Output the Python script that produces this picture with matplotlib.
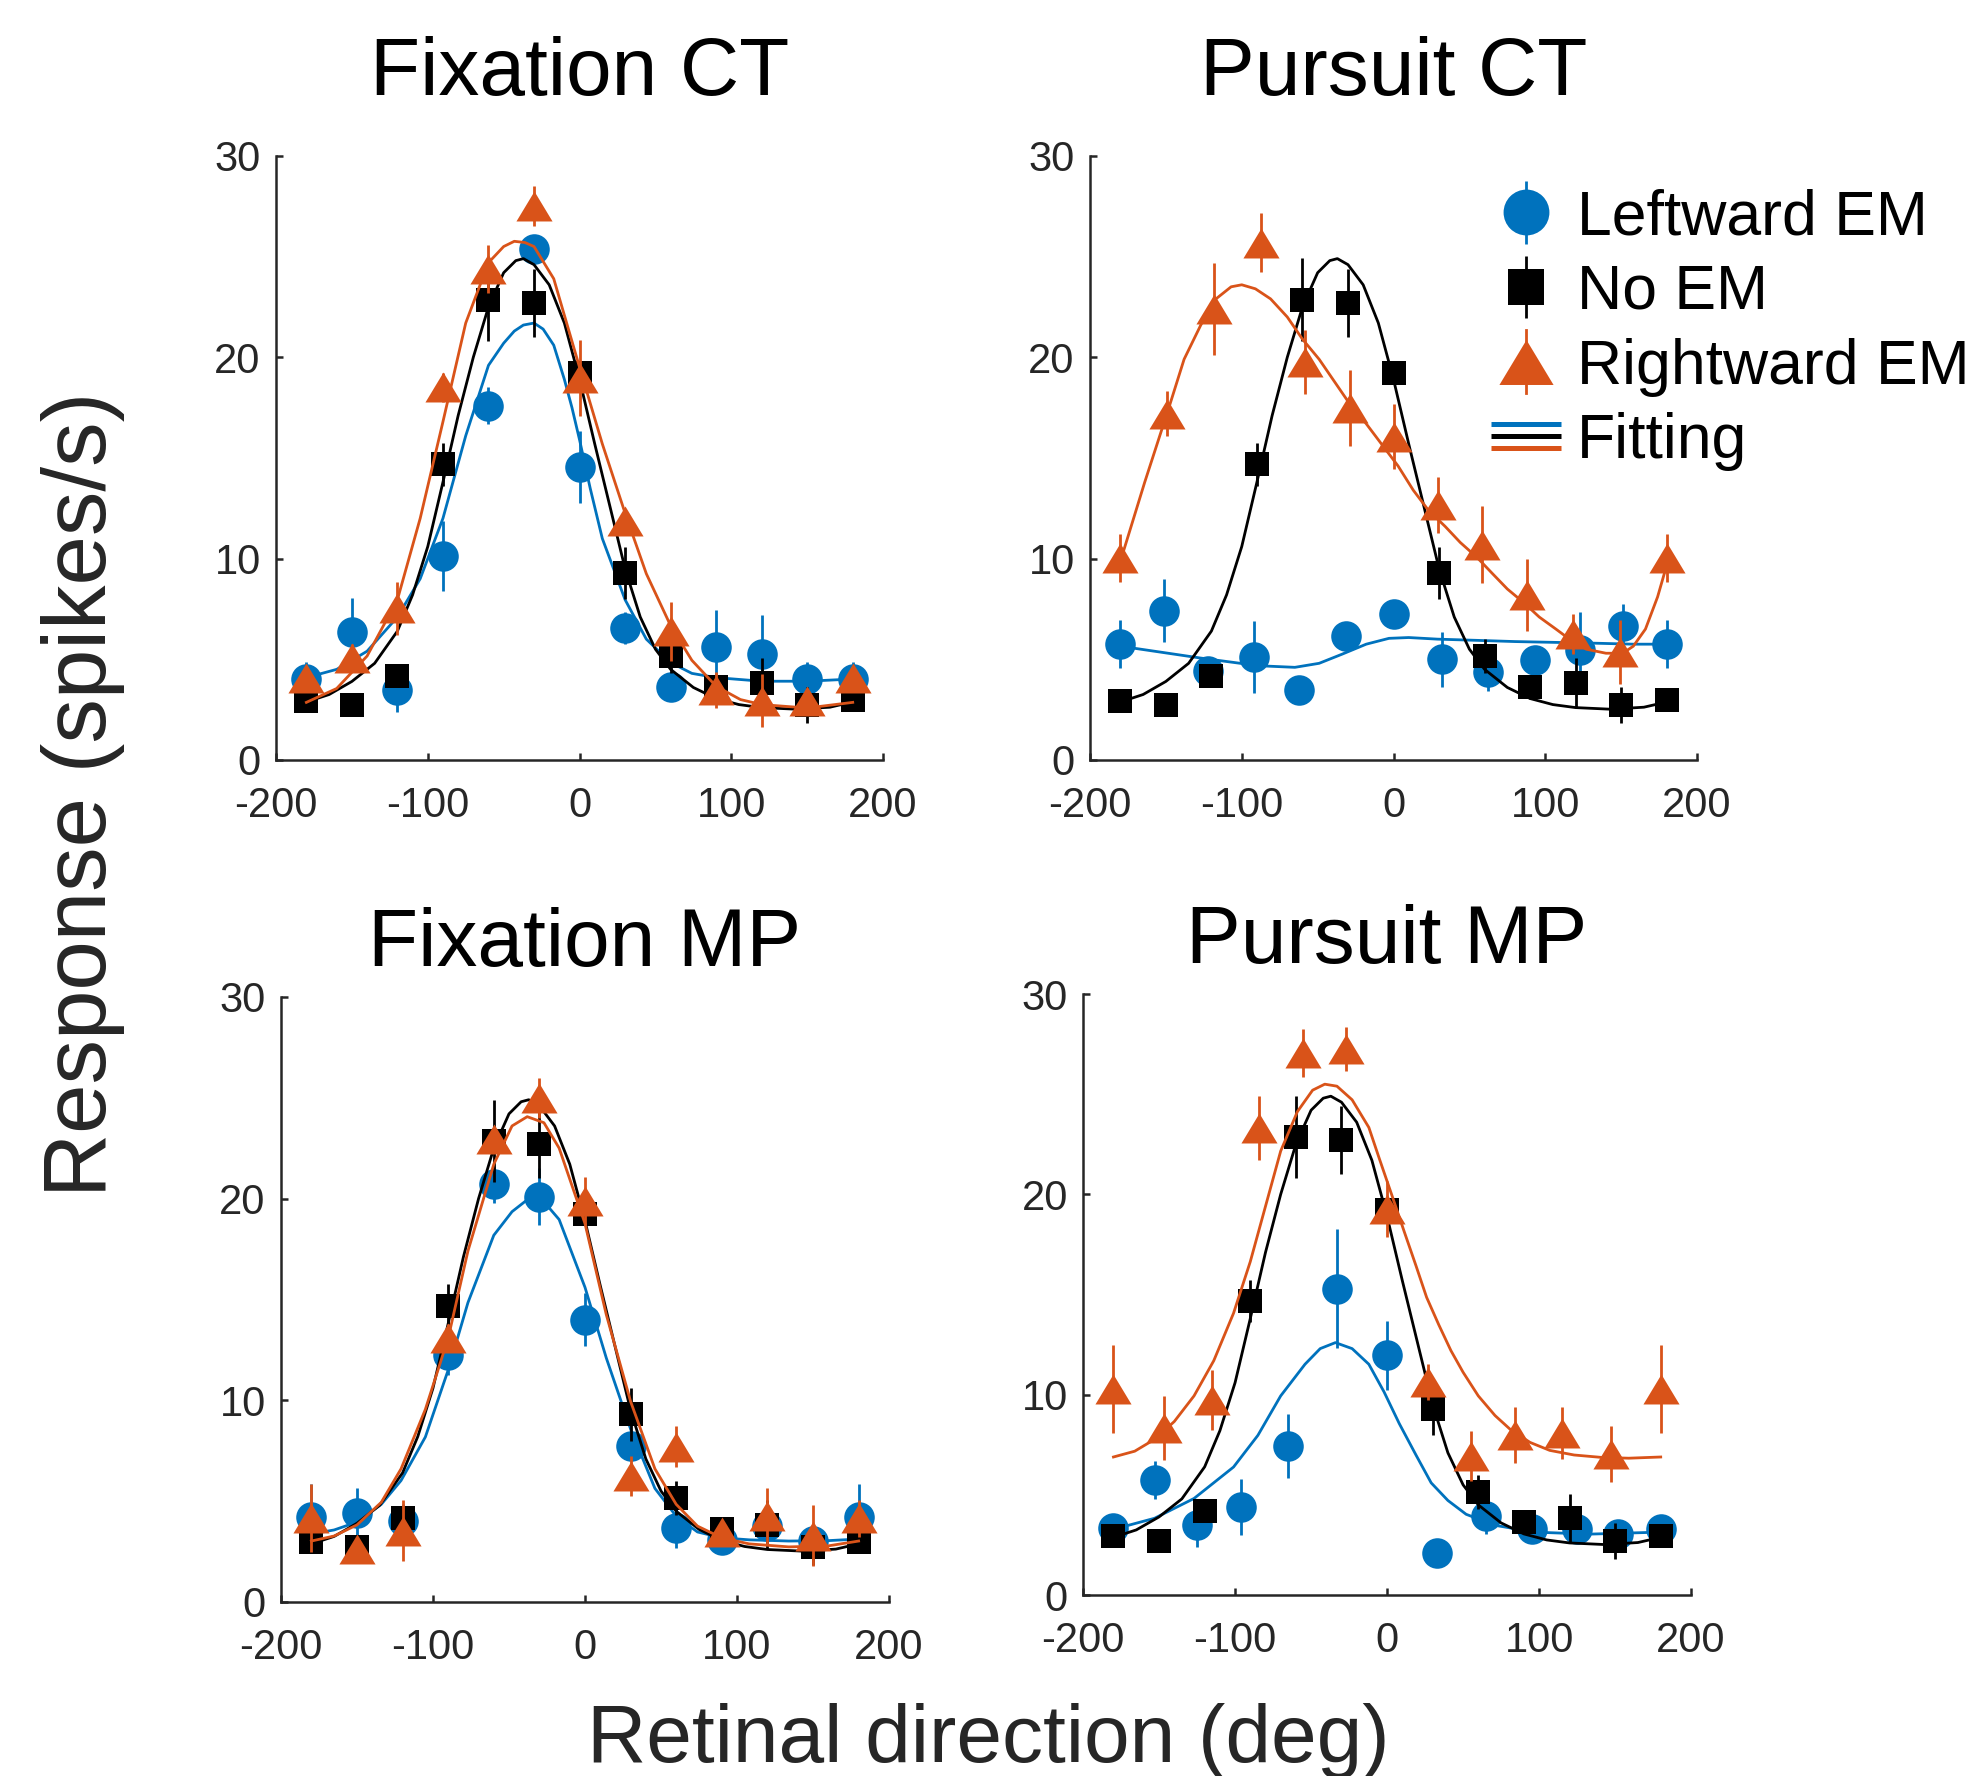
import matplotlib
matplotlib.use("Agg")
import matplotlib.pyplot as plt
from matplotlib.lines import Line2D
from matplotlib.legend_handler import HandlerBase

plt.rcParams['font.family'] = ['Liberation Sans', 'DejaVu Sans']
plt.rcParams['axes.unicode_minus'] = False

BLUE = '#0072BD'
ORANGE = '#D95319'
BLACK = '#000000'
GRAY = '#262626'

# ---- data ----
x_std = [-180, -150, -120, -90, -60, -30, 0, 30, 60, 90, 120, 150, 180]

# No EM (identical in all four panels)
noem_y = [2.95, 2.72, 4.18, 14.68, 22.86, 22.7, 19.24, 9.3, 5.16, 3.63, 3.84, 2.72, 2.97]
noem_err = [0.5, 0.4, 0.5, 1.06, 2.05, 1.7, 0.35, 1.3, 0.85, 0.6, 1.2, 0.9, 0.5]
noem_fit_x = [-180, -165, -150, -135, -120, -110, -100, -90, -80, -70, -60, -50, -42, -37, -30,
              -20, -10, 0, 10, 20, 30, 40, 50, 60, 75, 90, 105, 120, 143, 165, 180]
noem_fit_y = [2.88, 3.25, 3.9, 4.8, 6.4, 8.2, 10.6, 13.8, 17.1, 20.0, 22.5, 24.2, 24.8, 24.9, 24.6,
              23.6, 21.7, 18.9, 15.7, 12.6, 9.5, 7.1, 5.5, 4.5, 3.6, 3.05, 2.75, 2.6, 2.52, 2.62, 2.88]

# Fixation CT
fct_left_y = [4.02, 6.34, 3.48, 10.15, 17.6, 25.4, 14.56, 6.56, 3.6, 5.6, 5.27, 4.0, 4.0]
fct_left_err = [0.86, 1.7, 1.1, 1.74, 0.9, 0.5, 1.78, 0.8, 0.4, 1.83, 1.94, 0.86, 0.86]
fct_right_y = [4.09, 5.05, 7.53, 18.5, 24.4, 27.5, 18.97, 11.87, 6.39, 3.48, 2.95, 2.95, 4.09]
fct_right_err = [0.6, 0.7, 1.3, 0.7, 1.2, 1.0, 1.9, 0.6, 1.46, 0.9, 1.3, 0.6, 0.6]
fct_left_fit_x = [-180, -160, -140, -120, -105, -90, -75, -60, -50, -43, -37, -30, -24, -17, -10,
                  -5, 0, 7, 15, 30, 44, 60, 74, 90, 120, 150, 180]
fct_left_fit_y = [4.09, 4.5, 5.4, 7.1, 9.0, 12.0, 16.1, 19.6, 20.7, 21.3, 21.6, 21.7, 21.4, 20.6, 18.9,
                  17.5, 15.9, 13.5, 11.0, 7.96, 6.0, 4.84, 4.3, 4.09, 3.91, 3.91, 4.02]
fct_right_fit_x = [-180, -160, -140, -120, -105, -90, -75, -60, -50, -43, -36, -30, -17, 0, 15,
                   30, 44, 60, 74, 90, 106, 120, 150, 180]
fct_right_fit_y = [2.86, 3.55, 5.16, 7.96, 12.0, 16.8, 21.7, 24.7, 25.5, 25.76, 25.7, 25.5, 23.9, 19.5, 15.7,
                   12.26, 9.25, 6.67, 4.95, 3.66, 3.0, 2.75, 2.58, 2.86]

# Pursuit CT
pct_left_x = [-180, -151, -122, -92, -62, -31, 0, 32, 62, 93, 123, 151, 180]
pct_left_y = [5.75, 7.41, 4.4, 5.12, 3.49, 6.18, 7.25, 5.0, 4.37, 4.96, 5.45, 6.67, 5.75]
pct_left_err = [1.18, 1.57, 0.5, 1.8, 0.3, 0.3, 0.3, 1.37, 0.94, 0.7, 1.9, 1.1, 1.18]
pct_right_x = [-180, -149, -118, -87, -58, -29, 0, 29, 58, 88, 118, 149, 180]
pct_right_y = [10.04, 17.2, 22.4, 25.7, 19.76, 17.47, 16.06, 12.65, 10.69, 8.2, 6.27, 5.37, 10.04]
pct_right_err = [1.2, 1.1, 2.3, 1.45, 1.6, 1.9, 1.6, 1.4, 1.9, 1.8, 1.0, 1.6, 1.2]
pct_left_fit_x = [-180, -153, -127, -101, -86, -65, -49, -34, -18, -3, 10, 29, 55, 80, 106, 132, 158, 180]
pct_left_fit_y = [5.65, 5.35, 5.06, 4.8, 4.67, 4.6, 4.8, 5.25, 5.75, 6.04, 6.08, 6.0, 5.94, 5.88, 5.84,
                  5.8, 5.75, 5.75]
pct_right_fit_x = [-180, -164, -148, -138, -127, -117, -107, -100, -91, -81, -70, -60, -49, -39, -29,
                   -18, -8, 3, 13, 23, 34, 44, 55, 65, 75, 86, 96, 107, 117, 127, 140, 151, 158,
                   166, 174, 180]
pct_right_fit_y = [9.86, 13.78, 17.5, 19.9, 21.6, 22.9, 23.5, 23.6, 23.4, 22.9, 22.0, 20.9, 19.9, 18.8, 17.7,
                   16.7, 15.7, 14.6, 13.4, 12.4, 11.6, 10.8, 10.06, 9.27, 8.49, 7.8, 7.1, 6.5, 5.94, 5.5,
                   5.3, 5.3, 5.65, 6.5, 8.1, 9.67]

# Fixation MP
fmp_left_y = [4.2, 4.41, 4.0, 12.25, 20.7, 20.1, 14.0, 7.73, 3.67, 3.08, 3.76, 3.04, 4.2]
fmp_left_err = [1.67, 1.25, 0.85, 1.0, 0.9, 1.4, 1.3, 0.5, 1.0, 0.4, 0.6, 0.5, 1.67]
fmp_right_y = [4.16, 2.65, 3.53, 13.1, 22.96, 24.98, 19.88, 6.25, 7.7, 3.47, 4.25, 3.29, 4.14]
fmp_right_err = [1.7, 0.5, 1.5, 0.7, 0.6, 1.0, 1.2, 1.0, 1.0, 0.5, 1.4, 1.5, 0.9]
fmp_fit_x = [-180, -165, -150, -134, -121, -105, -90, -77, -60, -48, -38, -27, -17, 0, 14,
             30, 46, 60, 74, 90, 108, 134, 160, 180]
fmp_left_fit_y = [3.37, 3.57, 3.96, 4.84, 6.02, 8.18, 11.5, 14.84, 18.18, 19.35, 19.94, 19.84, 18.96, 15.6,
                  12.1, 8.57, 5.63, 4.25, 3.47, 3.18, 3.08, 3.02, 3.04, 3.12]
fmp_right_fit_y = [3.02, 3.27, 3.82, 4.94, 6.6, 9.55, 13.08, 17.4, 21.7, 23.6, 24.06, 23.76, 22.5, 18.76,
                   14.25, 9.94, 6.6, 4.84, 3.76, 3.18, 2.88, 2.73, 2.78, 3.02]

# Pursuit MP
pmp_left_x = [-180, -153, -125, -96, -65, -33, 0, 33, 65, 95, 125, 152, 180]
pmp_left_y = [3.34, 5.74, 3.48, 4.38, 7.42, 15.3, 11.97, 2.12, 3.93, 3.28, 3.28, 3.04, 3.3]
pmp_left_err = [0.3, 0.95, 1.1, 1.4, 1.6, 2.96, 1.72, 0.2, 0.9, 0.3, 0.3, 0.3, 0.3]
pmp_right_x = [-180, -147, -115, -84, -55, -27, 0, 27, 55, 84, 115, 147, 180]
pmp_right_y = [10.3, 8.34, 9.72, 23.3, 27.06, 27.24, 19.28, 10.63, 6.96, 8.0, 8.1, 7.02, 10.3]
pmp_right_err = [2.2, 1.6, 1.5, 1.6, 1.2, 1.1, 1.4, 0.9, 1.25, 1.4, 1.3, 1.4, 2.2]
pmp_left_fit_x = [-180, -153, -127, -101, -85, -70, -54, -44, -34, -23, -12, -2, 8, 19, 29, 40, 52,
                  71, 97, 133, 180]
pmp_left_fit_y = [3.28, 3.83, 4.82, 6.39, 7.97, 9.94, 11.52, 12.3, 12.6, 12.3, 11.52, 10.14, 8.56, 6.99,
                  5.6, 4.72, 4.03, 3.48, 3.14, 3.04, 3.14]
pmp_right_fit_x = [-180, -166, -153, -140, -127, -114, -101, -90, -80, -70, -59, -49, -41, -33, -23,
                   -12, -5, 3, 11, 19, 26, 34, 42, 50, 60, 71, 81, 94, 107, 123, 141, 159, 180]
pmp_right_fit_y = [6.89, 7.18, 7.77, 8.66, 9.94, 11.7, 14.07, 16.64, 19.4, 22.16, 24.13, 25.2, 25.5, 25.4,
                   24.72, 23.34, 21.76, 19.99, 18.2, 16.44, 14.86, 13.49, 12.2, 11.12, 9.94, 8.96, 8.27,
                   7.62, 7.22, 6.99, 6.87, 6.83, 6.89]

titles = ['Fixation CT', 'Pursuit CT', 'Fixation MP', 'Pursuit MP']
legend_labels = ['Leftward EM', 'No EM', 'Rightward EM', 'Fitting']

# wide MATLAB-like triangle
tri = [(0, 0.83), (-1, -0.83), (1, -0.83)]

panels = [
    dict(pos=[0.1394, 0.5721, 0.3066, 0.3401], pad=44,
         left=(x_std, fct_left_y, fct_left_err, fct_left_fit_x, fct_left_fit_y),
         right=(x_std, fct_right_y, fct_right_err, fct_right_fit_x, fct_right_fit_y)),
    dict(pos=[0.5505, 0.5721, 0.3066, 0.3401], pad=44,
         left=(pct_left_x, pct_left_y, pct_left_err, pct_left_fit_x, pct_left_fit_y),
         right=(pct_right_x, pct_right_y, pct_right_err, pct_right_fit_x, pct_right_fit_y)),
    dict(pos=[0.1419, 0.0980, 0.3071, 0.3407], pad=22,
         left=(x_std, fmp_left_y, fmp_left_err, fmp_fit_x, fmp_left_fit_y),
         right=(x_std, fmp_right_y, fmp_right_err, fmp_fit_x, fmp_right_fit_y)),
    dict(pos=[0.5470, 0.1019, 0.3071, 0.3384], pad=22,
         left=(pmp_left_x, pmp_left_y, pmp_left_err, pmp_left_fit_x, pmp_left_fit_y),
         right=(pmp_right_x, pmp_right_y, pmp_right_err, pmp_right_fit_x, pmp_right_fit_y)),
]

fig = plt.figure(figsize=(19.8, 17.76), dpi=100)

for i, p in enumerate(panels):
    ax = fig.add_axes(p['pos'])
    lx, ly, le, lfx, lfy = p['left']
    rx, ry, re_, rfx, rfy = p['right']

    h1 = ax.errorbar(lx, ly, yerr=le, fmt='o', color=BLUE, ms=22, mew=0,
                     elinewidth=2, capsize=0, zorder=3)
    ax.plot(lfx, lfy, color=BLUE, lw=2, zorder=3.5)
    h2 = ax.errorbar(x_std, noem_y, yerr=noem_err, fmt='s', color=BLACK, ms=17.5, mew=0,
                     elinewidth=2, capsize=0, zorder=4)
    ax.plot(noem_fit_x, noem_fit_y, color=BLACK, lw=2, zorder=4.5)
    ax.errorbar(rx, ry, yerr=re_, fmt='none', ecolor=ORANGE, elinewidth=2, capsize=0, zorder=5)
    ax.plot(rx, ry, ls='none', marker=tri, ms=26, mew=0, color=ORANGE, zorder=5.2)
    ax.plot(rfx, rfy, color=ORANGE, lw=2, zorder=5.5)

    ax.set_xlim(-200, 200)
    ax.set_ylim(0, 30)
    ax.set_xticks([-200, -100, 0, 100, 200])
    ax.set_yticks([0, 10, 20, 30])
    for s in ['top', 'right']:
        ax.spines[s].set_visible(False)
    for s in ['left', 'bottom']:
        ax.spines[s].set_color(GRAY)
        ax.spines[s].set_linewidth(1.8)
    ax.tick_params(direction='in', length=5, width=1.8, colors=GRAY, labelsize=30)
    ax.tick_params(axis='x', pad=19)
    ax.tick_params(axis='y', pad=11)
    ax.set_title(titles[i], fontsize=59, color='black', pad=p['pad'])

    if i == 1:
        leg_ax = ax
        leg_h1, leg_h2 = h1, h2


class HandlerFit(HandlerBase):
    def create_artists(self, legend, orig_handle, xdescent, ydescent, width, height, fontsize, trans):
        yc = height / 2 - ydescent
        out = []
        for dy, c in zip([8.6, 0, -8.6], [BLUE, BLACK, ORANGE]):
            out.append(Line2D([-xdescent, width - xdescent], [yc + dy, yc + dy],
                              color=c, lw=3.6, transform=trans, solid_capstyle='butt'))
        return out


class HandlerTri(HandlerBase):
    def create_artists(self, legend, orig_handle, xdescent, ydescent, width, height, fontsize, trans):
        xc = width / 2 - xdescent
        yc = height / 2 - ydescent
        bar = Line2D([xc, xc], [yc - 0.5 * fontsize, yc + 0.5 * fontsize], color=ORANGE, lw=2,
                     transform=trans)
        mk = Line2D([xc], [yc], ls='none', marker=tri, ms=26 * 1.5, mew=0, color=ORANGE,
                    transform=trans)
        return [bar, mk]


fit_handle = Line2D([], [])
tri_leg = Line2D([], [])
leg = leg_ax.legend([leg_h1, leg_h2, tri_leg, fit_handle], legend_labels,
                    handler_map={fit_handle: HandlerFit(), tri_leg: HandlerTri()},
                    loc='upper left', bbox_to_anchor=(0.753, 0.894),
                    bbox_transform=fig.transFigure, frameon=False, fontsize=45,
                    markerscale=1.5, handlelength=1.12, handletextpad=0.26,
                    labelspacing=0.25, borderpad=0, borderaxespad=0)

fig.text(0.042, 1 - 794 / 1776, 'Response (spikes/s)', rotation=90, ha='center', va='center',
         fontsize=64, color=GRAY)
fig.text(0.499, 1 - 1762 / 1776, 'Retinal direction (deg)', ha='center', va='baseline',
         fontsize=59, color=GRAY)

fig.savefig('out.png', dpi=100)
